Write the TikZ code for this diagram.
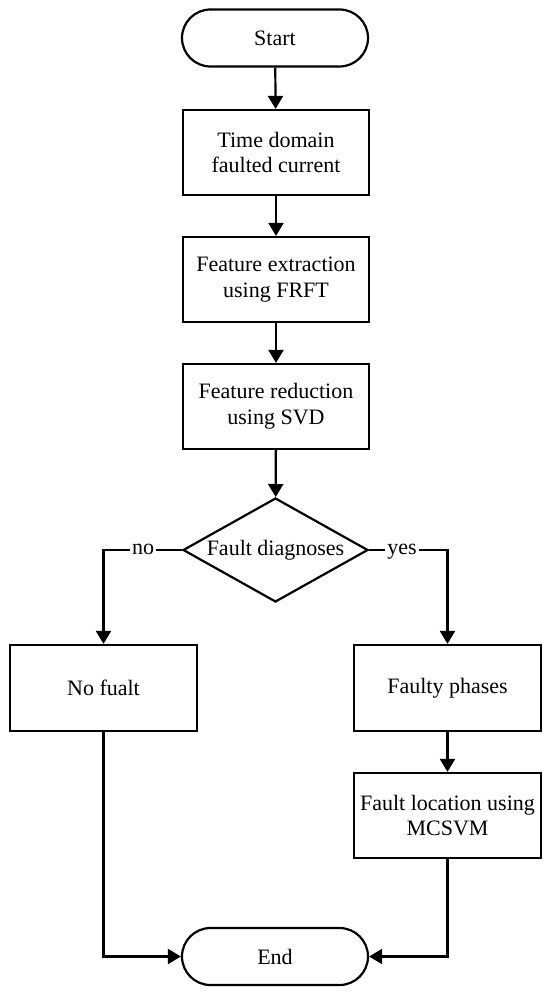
\documentclass[tikz,border=0pt]{standalone}
\usepackage{fontspec}
\setmainfont{Liberation Serif}
\usetikzlibrary{arrows.meta,shapes.geometric}
\begin{document}
\begin{tikzpicture}[x=0.5pt,y=-0.5pt,
  every node/.style={font=\fontsize{11}{12.8}\selectfont},
  term/.style={draw,line width=1.1pt,rounded corners=14.25pt,minimum width=93pt,minimum height=28.5pt,inner sep=0pt},
  proc/.style={draw,line width=1.1pt,minimum width=93pt,minimum height=42.5pt,align=center,inner sep=0pt},
  decis/.style={draw,line width=1.1pt,diamond,minimum width=92.5pt,minimum height=52pt,inner sep=0pt},
  conn/.style={line width=1.1pt,-{Triangle[length=6.5pt,width=7.5pt]}},
  lbl/.style={fill=white,inner sep=1pt,text height=1ex,text depth=0pt}]
\useasboundingbox (0,0) rectangle (550,995);
\node[term] (start) at (275,38) {Start};
\node[proc] (b1) at (276,152.5) {Time domain\\faulted current};
\node[proc] (b2) at (276,279.5) {Feature extraction\\using FRFT};
\node[proc] (b3) at (276,406.5) {Feature reduction\\using SVD};
\node[decis] (d) at (275.5,550) {\makebox[0pt]{Fault diagnoses}};
\node[proc,minimum width=93.5pt,minimum height=43pt] (nf) at (103.5,688) {No fualt};
\node[proc,minimum width=93.5pt,minimum height=43pt] (fp) at (447.5,688) {Faulty phases};
\node[proc,minimum width=93.5pt,minimum height=42.5pt] (fl) at (447.5,815.5) {Fault location using\\MCSVM};
\node[term] (end) at (275,956.5) {End};
\coordinate (nl) at (103.5,550);
\coordinate (yr) at (447.5,550);
\coordinate (nb) at (103.5,956.5);
\coordinate (fb) at (447.5,956.5);
\draw[conn] (start) -- (b1);
\draw[conn] (b1) -- (b2);
\draw[conn] (b2) -- (b3);
\draw[conn] (b3) -- (d);
\draw[conn] (d.west) -- (nl) -- (nf.north);
\draw[conn] (d.east) -- (yr) -- (fp.north);
\node[lbl] (no) at (143,550) {no};
\node[lbl] (yes) at (402,550) {yes};
\draw[conn] (fp) -- (fl);
\draw[conn] (nf.south) -- (nb) -- (end.west);
\draw[conn] (fl.south) -- (fb) -- (end.east);
\end{tikzpicture}
\end{document}
